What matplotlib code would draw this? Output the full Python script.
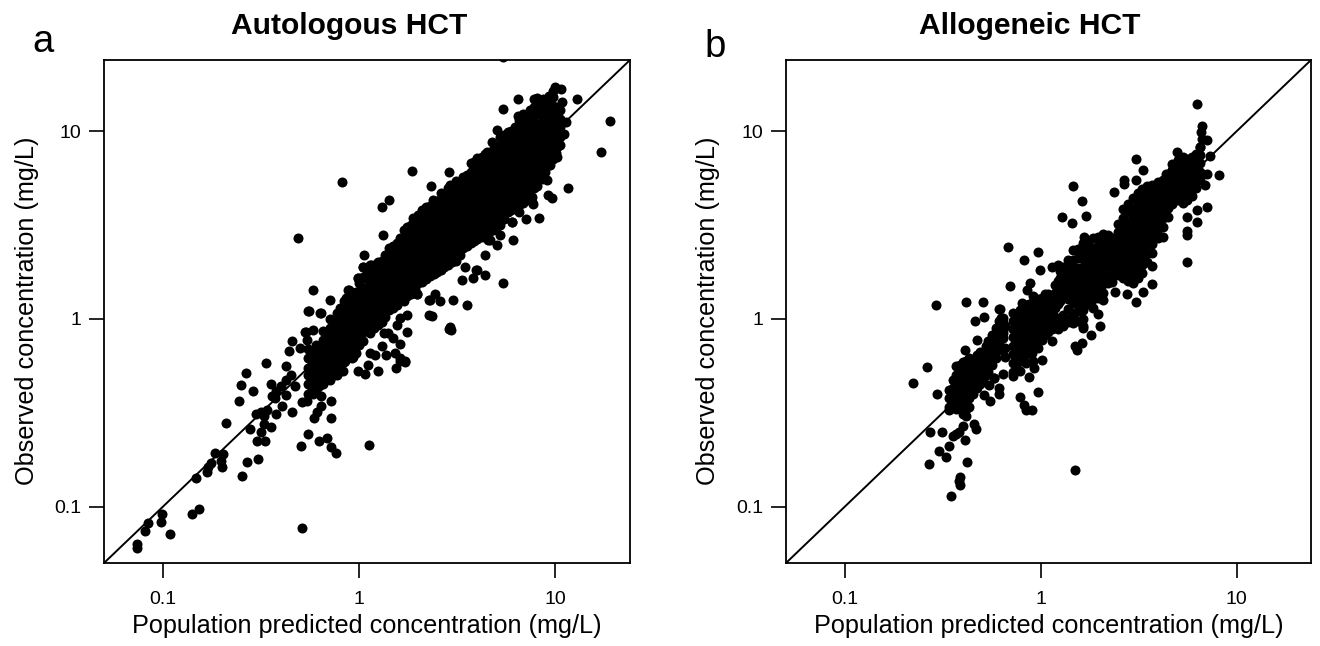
import matplotlib
matplotlib.use("Agg")
import matplotlib.pyplot as plt

plt.rcParams["font.family"] = ["Liberation Sans", "DejaVu Sans"]

tick_values = [0.1, 1, 10]
tick_labels = ["0.1", "1", "10"]
axis_lim = [0.05, 24]

# panel a, single points (mg/L)
auto_x = [0.074, 0.074, 0.081, 0.084, 0.098, 0.099, 0.109, 0.141, 0.153, 0.147, 0.168, 0.17, 0.176, 0.184, 0.202, 0.197,
          0.2, 0.253, 0.268, 0.305, 0.21, 0.278, 0.244, 0.25, 0.288, 0.265, 0.336, 0.302, 0.331, 0.316, 0.327, 0.356,
          0.298, 0.316, 0.339, 0.327, 0.377, 0.405, 0.455, 0.37, 0.36, 0.377, 0.356, 0.425, 0.4, 0.425, 0.471, 0.45,
          0.425, 0.512, 0.543, 0.582, 0.64, 0.72, 0.64, 0.61, 0.59, 0.72, 0.55, 0.506, 0.626, 0.687, 0.72, 0.763,
          1.12, 0.512, 0.44, 0.455, 0.5, 0.536, 0.556, 0.582, 0.64, 0.82, 0.489, 1.06, 0.582, 0.71, 1.04, 1.15,
          0.98, 0.89, 0.86, 5.43, 1.86, 2.88, 2.33, 1.41, 1.31, 2.39, 2.68, 1.32, 6.47, 5.43, 6.47, 5.06,
          7.8, 8.6, 10.0, 10.7, 12.9, 18.9, 17.0, 11.6, 9.2, 9.66, 8.2, 7.1, 7.6, 6.1, 6.0, 5.43,
          4.4, 4.4, 4.0, 3.82, 3.36, 3.56, 3.02, 2.3, 2.59, 1.98, 3.47, 5.06, 4.55, 2.91, 2.95, 2.36,
          1.2, 1.53, 1.72, 1.62, 1.4, 1.07, 0.85]
auto_y = [0.063, 0.06, 0.074, 0.082, 0.083, 0.091, 0.071, 0.091, 0.097, 0.142, 0.153, 0.162, 0.171, 0.194, 0.191, 0.175,
          0.162, 0.146, 0.173, 0.18, 0.28, 0.26, 0.363, 0.443, 0.411, 0.513, 0.581, 0.224, 0.224, 0.251, 0.277, 0.267,
          0.313, 0.321, 0.325, 0.302, 0.313, 0.342, 0.321, 0.377, 0.387, 0.411, 0.448, 0.391, 0.437, 0.471, 0.437, 0.501,
          0.56, 0.359, 0.363, 0.396, 0.387, 0.363, 0.342, 0.321, 0.295, 0.295, 0.245, 0.211, 0.224, 0.233, 0.208, 0.194,
          0.214, 0.077, 0.673, 0.762, 0.7, 0.85, 1.1, 0.873, 1.08, 5.36, 2.69, 2.18, 1.43, 1.26, 1.88, 1.95,
          1.66, 1.43, 1.3, 25.0, 6.14, 6.06, 5.1, 4.3, 3.94, 4.3, 4.62, 2.79, 14.8, 13.2, 12.0, 10.2,
          14.8, 14.8, 17.3, 16.9, 14.9, 11.4, 7.76, 4.98, 4.57, 4.4, 3.44, 3.4, 4.19, 2.62, 3.27, 1.56,
          1.72, 2.18, 1.83, 1.66, 1.62, 1.19, 1.26, 1.26, 1.25, 1.35, 1.88, 2.49, 2.62, 0.91, 0.87, 1.04,
          0.64, 0.66, 0.6, 0.6, 0.84, 0.51, 0.6]

# panel a, dots that stick out along the edges of the band
auto_edge_x = [1.05, 1.24, 1.14, 0.98, 0.88, 0.55, 0.63, 0.53, 0.54, 1.47, 1.58, 1.72, 1.89, 2.1, 2.53, 1.53, 1.33,
               2.28, 2.88, 3.95, 2.28, 2.44, 1.97, 1.76, 1.62, 1.76, 1.62, 1.33, 1.31, 1.37, 1.62, 1.72, 1.54, 1.24,
               1.14, 0.93, 1.11, 0.99, 0.83, 1.49, 1.56, 3.56, 2.91, 2.75, 4.0, 3.9, 4.5, 4.77, 5.76, 6.63, 7.2,
               10.8, 11.3, 11.0, 10.2, 10.2, 9.4, 9.1, 7.6, 7.7, 6.55, 6.0, 5.24, 4.66]
auto_edge_y = [1.88, 2.0, 1.95, 1.66, 1.43, 1.1, 1.08, 0.85, 0.77, 2.4, 2.55, 2.79, 3.44, 3.8, 3.89, 2.07, 1.88,
               1.05, 0.88, 1.83, 1.26, 1.35, 1.35, 1.05, 1.01, 0.85, 0.735, 0.84, 0.72, 0.64, 0.62, 0.59, 0.55, 0.53,
               0.66, 0.63, 0.57, 0.53, 0.53, 0.79, 0.93, 5.77, 5.17, 4.62, 7.2, 6.45, 7.76, 8.8, 9.7, 11.0, 12.2,
               14.4, 11.2, 9.7, 8.3, 7.3, 6.6, 5.5, 4.45, 4.08, 3.7, 3.27, 2.79, 2.62]

# panel a, the dense band: predicted value with the observed values at it
auto_band_x = [0.55, 0.575, 0.6, 0.625, 0.65, 0.68, 0.71, 0.74, 0.77, 0.80, 0.84, 0.88, 0.92, 0.96, 1.0, 1.04, 1.09,
               1.14, 1.19, 1.24, 1.3, 1.36, 1.42, 1.48, 1.55, 1.62, 1.69, 1.76, 1.84, 1.92, 2.0, 2.1, 2.2, 2.3,
               2.4, 2.5, 2.6, 2.72, 2.85, 2.97, 3.1, 3.25, 3.4, 3.55, 3.7, 3.85, 4.0, 4.2, 4.4, 4.6, 4.8, 5.0,
               5.2, 5.45, 5.7, 5.95, 6.2, 6.5, 6.8, 7.1, 7.4, 7.75, 8.1, 8.5, 8.9, 9.3, 9.7, 10.1, 10.5]
auto_band_y = [
    [0.40, 0.45, 0.50, 0.55, 0.62, 0.69],
    [0.43, 0.48, 0.53, 0.59, 0.66],
    [0.42, 0.47, 0.53, 0.59, 0.65, 0.73],
    [0.44, 0.50, 0.56, 0.62, 0.69],
    [0.45, 0.50, 0.55, 0.62, 0.69, 0.77, 0.86],
    [0.47, 0.52, 0.58, 0.65, 0.73, 0.81],
    [0.47, 0.53, 0.59, 0.65, 0.73, 0.81, 0.90, 1.0],
    [0.50, 0.56, 0.62, 0.69, 0.77, 0.85, 0.95],
    [0.50, 0.55, 0.62, 0.69, 0.77, 0.86, 0.96, 1.07],
    [0.55, 0.60, 0.67, 0.75, 0.83, 0.93, 1.03, 1.15],
    [0.59, 0.65, 0.73, 0.81, 0.90, 1.0, 1.12, 1.25],
    [0.62, 0.69, 0.77, 0.85, 0.95, 1.05, 1.18],
    [0.62, 0.69, 0.77, 0.86, 0.96, 1.07, 1.19, 1.32],
    [0.66, 0.73, 0.81, 0.90, 1.0, 1.12, 1.25, 1.4],
    [0.73, 0.81, 0.90, 1.0, 1.12, 1.25, 1.39, 1.55],
    [0.76, 0.85, 0.95, 1.06, 1.18, 1.32, 1.47, 1.68],
    [0.86, 0.96, 1.07, 1.19, 1.32, 1.47, 1.64, 1.83],
    [0.84, 0.93, 1.03, 1.15, 1.28, 1.43, 1.6, 1.78],
    [0.90, 1.0, 1.12, 1.25, 1.39, 1.55, 1.73, 1.93],
    [0.93, 1.03, 1.15, 1.28, 1.43, 1.6, 1.78, 1.98],
    [0.96, 1.07, 1.19, 1.32, 1.47, 1.64, 1.83, 2.04],
    [1.03, 1.15, 1.28, 1.43, 1.6, 1.78, 1.98, 2.2],
    [1.12, 1.25, 1.39, 1.55, 1.73, 1.93, 2.15, 2.4],
    [1.15, 1.28, 1.43, 1.6, 1.78, 1.98, 2.2, 2.45],
    [1.19, 1.32, 1.47, 1.64, 1.83, 2.04, 2.28, 2.54],
    [1.25, 1.4, 1.56, 1.75, 1.95, 2.18, 2.42, 2.7],
    [1.25, 1.39, 1.55, 1.73, 1.93, 2.15, 2.4, 2.68, 2.98],
    [1.32, 1.47, 1.64, 1.83, 2.04, 2.28, 2.54, 2.83, 3.1],
    [1.36, 1.47, 1.64, 1.83, 2.04, 2.28, 2.54, 2.83, 3.16],
    [1.45, 1.62, 1.8, 2.0, 2.24, 2.5, 2.78, 3.1, 3.4],
    [1.55, 1.73, 1.93, 2.15, 2.4, 2.68, 2.98, 3.33, 3.6],
    [1.58, 1.76, 1.96, 2.18, 2.43, 2.71, 3.02, 3.37, 3.7],
    [1.64, 1.83, 2.04, 2.28, 2.54, 2.83, 3.16, 3.52, 3.93],
    [1.7, 1.9, 2.1, 2.34, 2.6, 2.9, 3.25, 3.62, 4.0],
    [1.73, 1.93, 2.15, 2.4, 2.68, 2.98, 3.33, 3.71, 4.14],
    [1.78, 1.98, 2.2, 2.46, 2.75, 3.06, 3.42, 3.82, 4.25],
    [1.83, 2.04, 2.28, 2.54, 2.83, 3.16, 3.52, 3.93, 4.38, 4.7],
    [1.9, 2.1, 2.35, 2.6, 2.9, 3.24, 3.6, 4.03, 4.5],
    [1.93, 2.15, 2.4, 2.68, 2.98, 3.33, 3.71, 4.14, 4.61, 5.0],
    [2.0, 2.22, 2.48, 2.76, 3.08, 3.43, 3.82, 4.26, 4.75],
    [2.04, 2.28, 2.54, 2.83, 3.16, 3.52, 3.93, 4.38, 4.88, 5.44],
    [2.2, 2.45, 2.73, 3.05, 3.4, 3.79, 4.22, 4.7, 5.24],
    [2.4, 2.68, 2.98, 3.33, 3.71, 4.14, 4.61, 5.14, 5.73],
    [2.45, 2.73, 3.05, 3.4, 3.79, 4.22, 4.7, 5.24, 5.85],
    [2.54, 2.83, 3.16, 3.52, 3.93, 4.38, 4.88, 5.44, 6.07, 6.77],
    [2.6, 2.9, 3.24, 3.6, 4.03, 4.5, 5.0, 5.58, 6.2, 6.9],
    [2.68, 2.98, 3.33, 3.71, 4.14, 4.61, 5.14, 5.73, 6.4, 7.13],
    [2.75, 3.07, 3.42, 3.82, 4.26, 4.75, 5.3, 5.9, 6.58, 7.3],
    [2.83, 3.16, 3.52, 3.93, 4.38, 4.88, 5.44, 6.07, 6.77, 7.55],
    [2.9, 3.24, 3.6, 4.03, 4.5, 5.0, 5.58, 6.2, 6.9, 7.7],
    [2.98, 3.33, 3.71, 4.14, 4.61, 5.14, 5.73, 6.4, 7.13, 7.95],
    [3.07, 3.42, 3.82, 4.26, 4.75, 5.3, 5.9, 6.58, 7.3, 8.2],
    [3.16, 3.52, 3.93, 4.38, 4.88, 5.44, 6.07, 6.77, 7.55, 8.41, 9.38],
    [3.4, 3.79, 4.22, 4.7, 5.24, 5.85, 6.5, 7.3, 8.1, 9.0, 9.6],
    [3.71, 4.14, 4.61, 5.14, 5.73, 6.4, 7.13, 7.95, 8.87, 9.9],
    [3.8, 4.25, 4.74, 5.3, 5.9, 6.58, 7.3, 8.2, 9.1, 10.1],
    [3.93, 4.38, 4.88, 5.44, 6.07, 6.77, 7.55, 8.41, 9.38, 10.5],
    [4.03, 4.5, 5.0, 5.58, 6.2, 6.9, 7.7, 8.6, 9.6, 10.7, 11.5],
    [4.14, 4.61, 5.14, 5.73, 6.4, 7.13, 7.95, 8.87, 9.9, 11.0, 12.3],
    [4.5, 5.0, 5.58, 6.2, 6.9, 7.7, 8.6, 9.6, 10.7, 12.0],
    [4.88, 5.44, 6.07, 6.77, 7.55, 8.41, 9.38, 10.5, 11.7, 13.0],
    [5.0, 5.58, 6.2, 6.9, 7.7, 8.6, 9.6, 10.7, 12.0, 13.4],
    [5.14, 5.73, 6.4, 7.13, 7.95, 8.87, 9.9, 11.0, 12.3, 13.7, 15.0],
    [5.6, 6.2, 6.9, 7.7, 8.6, 9.6, 10.7, 12.0, 13.4, 14.5],
    [6.07, 6.77, 7.55, 8.41, 9.38, 10.5, 11.7, 13.0, 14.5],
    [6.6, 7.4, 8.2, 9.2, 10.2, 11.4, 12.7, 14.2, 15.5],
    [7.13, 7.95, 8.87, 9.9, 11.0, 12.3, 13.7, 15.3, 16.5],
    [7.7, 8.6, 9.6, 10.7, 12.0, 13.4],
    [8.41, 9.38, 10.5, 11.7, 13.0],
]

# panel b, single points
allo_x = [0.291, 0.414, 0.506, 0.611, 0.512, 0.46, 0.471, 0.262, 0.222, 0.294, 0.409, 0.271, 0.312, 0.34, 0.302, 0.327,
          0.268, 0.419, 0.386, 0.382, 0.386, 0.347, 0.409, 0.368, 0.356, 0.382, 0.4, 0.455, 0.466, 0.414, 0.34, 0.55,
          0.611, 0.611, 0.512, 0.543, 0.575, 0.64, 0.78, 0.82, 0.838, 0.9, 0.965, 0.87, 0.72, 1.01, 0.92, 1.14,
          1.02, 6.25, 6.63, 6.55, 6.63, 7.1, 6.47, 7.28, 8.1, 7.03, 6.87, 7.03, 6.25, 6.25, 5.56, 5.6,
          5.56, 5.6, 4.94, 3.05, 2.65, 2.65, 2.36, 3.05, 3.32, 4.34, 1.46, 1.62, 1.28, 1.44, 1.7, 0.68,
          0.82, 0.97, 0.7, 0.618, 4.19, 3.72, 3.72, 3.32, 3.05, 2.75, 2.39, 2.3, 2.07, 1.95, 2.0, 1.8,
          1.64, 1.14, 0.99, 0.88, 1.09, 1.49]
allo_y = [1.19, 1.23, 1.23, 1.13, 1.03, 0.975, 0.77, 0.553, 0.454, 0.396, 0.682, 0.251, 0.251, 0.211, 0.198, 0.184,
          0.169, 0.173, 0.144, 0.137, 0.13, 0.114, 0.227, 0.245, 0.239, 0.251, 0.27, 0.277, 0.26, 0.302, 0.325, 0.363,
          0.4, 0.426, 0.391, 0.443, 0.483, 0.507, 0.382, 0.346, 0.329, 0.325, 0.406, 0.489, 0.495, 0.603, 0.546, 0.762,
          0.77, 13.9, 10.7, 9.9, 9.1, 9.0, 8.26, 7.4, 5.85, 5.9, 5.2, 3.94, 3.8, 3.27, 3.48, 2.96,
          2.79, 2.0, 7.76, 7.12, 5.5, 5.23, 4.74, 5.5, 6.2, 5.9, 5.1, 4.24, 3.48, 3.23, 3.52, 2.43,
          2.07, 2.26, 1.49, 1.13, 2.72, 1.92, 1.54, 1.4, 1.23, 1.36, 1.4, 1.58, 1.26, 1.06, 0.92, 0.82,
          0.92, 1.88, 1.83, 1.56, 1.35, 0.157]

# panel b, dots that stick out along the edges of the clusters
allo_edge_x = [1.22, 1.37, 1.46, 1.66, 0.85, 0.91, 0.8, 1.05, 0.62, 0.63, 0.56, 0.55, 0.49, 0.64, 1.18, 0.91, 0.58,
               1.62, 1.49, 1.53, 1.37, 1.46]
allo_edge_y = [1.95, 2.05, 2.32, 2.72, 1.43, 1.33, 1.22, 1.19, 0.98, 1.01, 0.76, 0.72, 0.67, 0.84, 0.93, 0.6, 0.483,
               0.74, 0.72, 0.68, 0.96, 1.04]

# panel b, the dense clusters
allo_band_x = [0.34, 0.355, 0.37, 0.385, 0.40, 0.415, 0.43, 0.45, 0.47, 0.49, 0.51, 0.525, 0.54, 0.565, 0.59, 0.615,
               0.64, 0.66, 0.72, 0.75, 0.78, 0.81, 0.84, 0.87, 0.90, 0.935, 0.97, 1.01, 1.05, 1.09, 1.14, 1.18,
               1.22, 1.26, 1.3, 1.38, 1.46, 1.55, 1.64, 1.74, 1.84, 1.95, 2.07, 2.2, 2.33, 2.47, 2.62, 2.78,
               2.95, 3.12, 3.3, 3.5, 3.72, 3.95, 4.2, 4.45, 4.7, 5.0, 5.3, 5.6, 5.95, 6.2, 6.47]
allo_band_y = [
    [0.34, 0.38, 0.42],
    [0.35, 0.39, 0.43, 0.47],
    [0.33, 0.37, 0.41, 0.45, 0.50, 0.56],
    [0.34, 0.38, 0.42, 0.46, 0.51, 0.57],
    [0.31, 0.35, 0.39, 0.43, 0.48, 0.53, 0.59],
    [0.33, 0.37, 0.41, 0.45, 0.50, 0.55, 0.6],
    [0.34, 0.38, 0.42, 0.47, 0.52, 0.58, 0.62],
    [0.40, 0.44, 0.49, 0.55, 0.6],
    [0.43, 0.48, 0.53, 0.59, 0.64],
    [0.45, 0.5, 0.56, 0.62],
    [0.47, 0.52, 0.58, 0.64, 0.67],
    [0.5, 0.55, 0.61, 0.66, 0.72],
    [0.52, 0.58, 0.64, 0.70, 0.76],
    [0.57, 0.63, 0.69, 0.76, 0.82],
    [0.62, 0.69, 0.76, 0.84, 0.90],
    [0.68, 0.75, 0.82, 0.9, 0.97],
    [0.79, 0.87, 0.95, 1.01],
    [0.63, 0.70, 0.92],
    [0.52, 0.58, 0.65, 0.72, 0.80, 0.88, 0.97, 1.08],
    [0.56, 0.62, 0.69, 0.77, 0.85, 0.94, 1.04],
    [0.53, 0.60, 0.67, 0.74, 0.82, 0.91, 1.0, 1.12],
    [0.6, 0.66, 0.73, 0.81, 0.9, 1.0, 1.1],
    [0.58, 0.65, 0.72, 0.80, 0.88, 0.97, 1.08, 1.18],
    [0.66, 0.73, 0.81, 0.9, 1.0, 1.1, 1.2],
    [0.66, 0.73, 0.81, 0.90, 1.0, 1.1, 1.22],
    [0.75, 0.83, 0.92, 1.02, 1.12, 1.24],
    [0.70, 0.78, 0.86, 0.95, 1.05, 1.16, 1.28],
    [0.8, 0.88, 0.97, 1.07, 1.18, 1.3],
    [0.82, 0.90, 1.0, 1.1, 1.22, 1.35],
    [0.85, 0.94, 1.04, 1.15, 1.27],
    [0.88, 0.98, 1.08, 1.2, 1.32],
    [0.92, 1.02, 1.15, 1.26, 1.38, 1.52],
    [0.88, 0.98, 1.2, 1.32, 1.45, 1.6],
    [0.95, 1.25, 1.37, 1.5, 1.65, 1.8],
    [0.92, 1.05, 1.3, 1.42, 1.56, 1.72, 1.88],
    [1.0, 1.13, 1.27, 1.42, 1.58, 1.75, 1.95],
    [0.95, 1.08, 1.22, 1.35, 1.5, 1.66, 1.84, 2.07],
    [0.98, 1.1, 1.23, 1.37, 1.52, 1.68, 1.86, 2.1, 2.35],
    [0.9, 1.0, 1.12, 1.25, 1.38, 1.53, 1.7, 1.88, 2.08, 2.3, 2.55],
    [1.2, 1.33, 1.48, 1.64, 1.82, 2.02, 2.24, 2.5],
    [1.15, 1.28, 1.42, 1.57, 1.74, 1.93, 2.14, 2.4, 2.7],
    [1.3, 1.45, 1.6, 1.78, 1.98, 2.2, 2.45, 2.72],
    [1.38, 1.53, 1.7, 1.88, 2.08, 2.3, 2.55, 2.85],
    [1.55, 1.72, 1.92, 2.12, 2.35, 2.6, 2.8],
    [1.7, 1.88, 2.08, 2.3, 2.5, 2.7],
    [1.72, 1.92, 2.12, 2.35, 2.6, 2.9, 3.2],
    [1.66, 1.84, 2.04, 2.26, 2.5, 2.78, 3.08, 3.45, 3.85],
    [1.6, 1.78, 1.98, 2.18, 2.42, 2.68, 2.97, 3.3, 3.7, 4.1],
    [1.55, 1.72, 1.9, 2.1, 2.33, 2.58, 2.86, 3.18, 3.53, 3.92, 4.4],
    [1.65, 1.84, 2.03, 2.25, 2.5, 2.77, 3.08, 3.42, 3.8, 4.2, 4.7],
    [1.75, 1.95, 2.16, 2.4, 2.66, 2.95, 3.28, 3.64, 4.04, 4.5, 4.95],
    [2.0, 2.25, 2.5, 2.78, 3.08, 3.42, 3.8, 4.25, 4.7, 5.1],
    [2.25, 2.5, 2.78, 3.08, 3.42, 3.8, 4.2, 4.7, 5.15],
    [2.7, 3.0, 3.3, 3.65, 4.05, 4.5, 5.0, 5.35],
    [3.1, 3.45, 3.83, 4.25, 4.72, 5.25, 5.5],
    [3.5, 3.9, 4.35, 4.85, 5.4, 5.9],
    [4.1, 4.55, 5.05, 5.6, 6.2, 6.7],
    [4.3, 4.8, 5.35, 5.95, 6.6, 7.0],
    [4.15, 4.6, 5.1, 5.65, 6.25, 6.9, 7.3],
    [4.3, 4.8, 5.3, 5.9, 6.5, 7.1],
    [4.5, 5.0, 5.5, 6.1, 6.7, 7.3],
    [5.0, 5.6, 6.2, 6.9, 7.6],
    [5.5, 6.1, 6.8, 7.5, 8.3],
]


def draw_panel(ax, xs, ys, edge_x, edge_y, band_x, band_y, title, letter, title_x, letter_x, letter_y, ylabel_x):
    for x, col in zip(band_x, band_y):
        ax.scatter([x] * len(col), col, s=52, color="black", linewidths=0, zorder=3)
    ax.scatter(xs, ys, s=52, color="black", linewidths=0, zorder=3)
    ax.scatter(edge_x, edge_y, s=52, color="black", linewidths=0, zorder=3)
    ax.plot(axis_lim, axis_lim, color="black", lw=1.4, zorder=2)
    ax.set_xscale("log")
    ax.set_yscale("log")
    ax.set_xlim(axis_lim)
    ax.set_ylim(axis_lim)
    ax.set_xticks(tick_values)
    ax.set_xticklabels(tick_labels)
    ax.set_yticks(tick_values)
    ax.set_yticklabels(tick_labels)
    ax.minorticks_off()
    ax.tick_params(length=10.8, width=1.2, labelsize=14)
    ax.tick_params(axis="x", pad=9)
    ax.tick_params(axis="y", pad=5.5)
    for spine in ax.spines.values():
        spine.set_linewidth(1.3)
    box = ax.get_position()
    mid_x = (box.x0 + box.x1) / 2
    fig.text(mid_x, 1 - 633 / 646, "Population predicted concentration (mg/L)", fontsize=18.2, ha="center", va="baseline")
    fig.text(ylabel_x / 1320, 1 - 311 / 646, "Observed concentration (mg/L)", fontsize=18.2,
             rotation=90, ha="center", va="center")
    fig.text(title_x / 1320, 1 - 34 / 646, title, fontsize=21.6, fontweight="bold", ha="center", va="baseline")
    fig.text(letter_x / 1320, 1 - letter_y / 646, letter, fontsize=27.5, ha="center", va="baseline")


fig = plt.figure(figsize=(13.2, 6.46), dpi=100)
ax1 = fig.add_axes([104 / 1320, 83 / 646, 526 / 1320, 503 / 646])
ax2 = fig.add_axes([786 / 1320, 83 / 646, 525 / 1320, 503 / 646])

draw_panel(ax1, auto_x, auto_y, auto_edge_x, auto_edge_y, auto_band_x, auto_band_y,
           "Autologous HCT", "a", 349, 43, 52, 27)
draw_panel(ax2, allo_x, allo_y, allo_edge_x, allo_edge_y, allo_band_x, allo_band_y,
           "Allogeneic HCT", "b", 1030, 715, 57, 708)

fig.savefig("out.png", dpi=100)
